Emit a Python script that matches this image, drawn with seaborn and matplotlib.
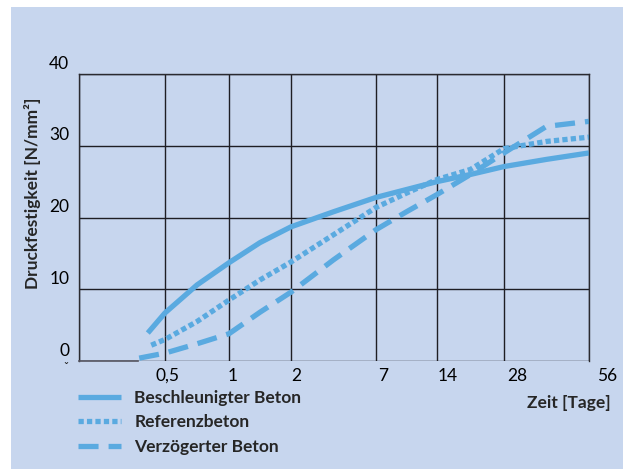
import numpy as np
import pandas as pd
import matplotlib
matplotlib.use('Agg')
import matplotlib.pyplot as plt
import seaborn as sns
from matplotlib.transforms import ScaledTranslation
from matplotlib.patches import Rectangle

# %% data
tick_days = [0, 0.5, 1, 2, 7, 14, 28, 56]
tick_labels = ['', '0,5', '1', '2', '7', '14', '28', '56']

days_besch = [0.4, 0.5, 0.75, 1, 1.5, 2, 4.5, 7, 10.5, 14, 21, 28, 42, 56]
besch = [3.9, 6.7, 10.6, 13.7, 16.5, 18.7, 20.8, 22.8, 23.9, 25.0, 26.0, 27.1, 28.1, 29.0]

days_ref = [0.42, 0.5, 0.75, 1, 1.5, 2, 4.5, 7, 10.5, 14, 21, 28, 42, 56]
ref = [2.2, 3.0, 5.5, 8.5, 11.3, 13.8, 17.6, 21.4, 23.4, 25.3, 26.7, 29.6, 30.6, 31.2]

days_verz = [0.35, 0.5, 0.75, 1, 1.5, 2, 4.5, 7, 10.5, 14, 21, 28, 42, 56]
verz = [0.4, 1.1, 2.4, 3.8, 6.8, 9.6, 14.1, 18.3, 20.8, 23.2, 26.0, 29.0, 32.7, 33.4]

y_ticks = [0, 10, 20, 30, 40]

# uneven time axis of the original (relative spacing of the grid columns)
axis_pos = [0, 86, 150, 212, 297, 358, 425, 510]

def fwd(x):
    return np.interp(x, tick_days, axis_pos)

def inv(p):
    return np.interp(p, axis_pos, tick_days)

# %% style
sns.set_theme(style='white')
plt.rcParams['font.family'] = ['Lato', 'DejaVu Sans']
bg = '#c7d6ee'
blue = '#5aaae0'
fs = 12.5

fig = plt.figure(figsize=(6.34, 4.69), dpi=100, facecolor='white')
fig.patches.append(Rectangle((11/634, 0), 612/634, 1 - 7/469, transform=fig.transFigure,
                             facecolor=bg, edgecolor='none', zorder=-10))
ax = fig.add_axes([79/634, 1 - 361/469, 510/634, 287/469])
ax.set_facecolor(bg)
ax.set_xscale('function', functions=(fwd, inv))

sns.lineplot(x=days_besch, y=besch, ax=ax, color=blue, linewidth=3.8,
             label='Beschleunigter Beton', solid_capstyle='butt')
sns.lineplot(x=days_ref, y=ref, ax=ax, color=blue, linewidth=3.8,
             linestyle=(0, (1, 0.6)), label='Referenzbeton')
sns.lineplot(x=days_verz, y=verz, ax=ax, color=blue, linewidth=3.8,
             linestyle=(0, (3.8, 1.9)), label='Verzögerter Beton')

ax.set_xlim(0, 56)
ax.set_ylim(0, 40)
ax.set_xticks(tick_days)
ax.set_xticklabels(tick_labels)
ax.set_yticks(y_ticks)
ax.tick_params(axis='both', length=0, labelsize=fs, colors='black')
ax.tick_params(axis='x', pad=5)
ax.tick_params(axis='y', pad=7)
ax.grid(True, color='#1e1e24', linewidth=1.0)
ax.set_axisbelow(True)

for side in ['top', 'right', 'left']:
    ax.spines[side].set_visible(True)
    ax.spines[side].set_color('#2a2a30')
    ax.spines[side].set_linewidth(1.0)
ax.spines['bottom'].set_color('#555560')
ax.spines['bottom'].set_linewidth(1.2)
ax.spines['bottom'].set_bounds(0, 0.345)

# labels in the original sit a bit off the lines
x_shift = [0, 2, 4, 5, 7, 11, 13, 18]
for lab, dx in zip(ax.get_xticklabels(), x_shift):
    lab.set_transform(lab.get_transform() + ScaledTranslation(dx/100, 0, fig.dpi_scale_trans))
for lab in ax.get_yticklabels():
    lab.set_transform(lab.get_transform() + ScaledTranslation(0, 12/100, fig.dpi_scale_trans))

ax.set_ylabel('Druckfestigkeit [N/mm²]', fontsize=fs, fontweight='bold')
ax.yaxis.set_label_coords(-0.075, 0.585)
ax.set_xlabel('Zeit [Tage]', fontsize=fs, fontweight='bold')
ax.xaxis.set_label_coords(0.961, -0.12)

fig.text(66/634, 1 - 368/469, 'ˇ', fontsize=9, ha='center', va='center')

leg = ax.legend(loc='upper left', bbox_to_anchor=(78/634, 1 - 390/469),
                bbox_transform=fig.transFigure, frameon=False, fontsize=fs,
                handlelength=2.5, handletextpad=0.75, labelspacing=0.48,
                borderpad=0, borderaxespad=0)
for t in leg.get_texts():
    t.set_fontweight('bold')

fig.savefig('out.png', dpi=100, facecolor='white')
